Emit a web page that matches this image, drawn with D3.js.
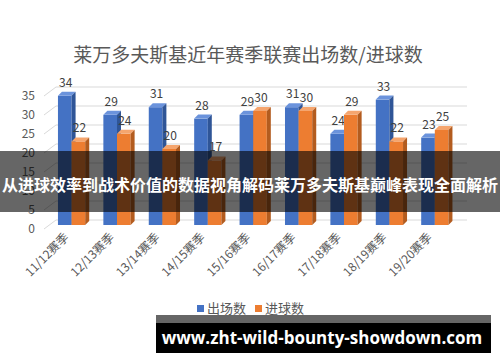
<!DOCTYPE html>
<html>
<head>
<meta charset="utf-8">
<script src="https://cdn.jsdelivr.net/npm/d3@7"></script>
<style>
  body { margin: 0; background: #fff; }
  svg { display: block; }
</style>
</head>
<body>
<div id="chart"></div>
<script>
var seasons = ['11/12赛季', '12/13赛季', '13/14赛季', '14/15赛季', '15/16赛季', '16/17赛季', '17/18赛季', '18/19赛季', '19/20赛季'];
var appearances = [34, 29, 31, 28, 29, 31, 24, 33, 23];
var goals = [22, 24, 20, 17, 30, 30, 29, 22, 25];
var seriesNames = ['出场数', '进球数'];
var yTicks = [0, 5, 10, 15, 20, 25, 30, 35];

var title = '莱万多夫斯基近年赛季联赛出场数/进球数';
var bannerText = '从进球效率到战术价值的数据视角解码莱万多夫斯基巅峰表现全面解析';
var siteText = 'www.zht-wild-bounty-showdown.com';

var width = 500,
    height = 362,
    depth = 4;

var cjk = '"Noto Sans CJK SC", "Noto Sans", sans-serif';

var colors = [
    { front: '#4472c4', top: '#6b93dc', side: '#2f5597' },
    { front: '#ed7d31', top: '#f5a56e', side: '#b35c1f' }
];

var svg = d3.select('#chart')
    .append('svg')
    .attr('width', width)
    .attr('height', height);

// back wall scale and bar scale (bars sit a little in front of the wall)
var yWall = d3.scaleLinear().domain([0, 35]).range([220, 87]);
var yBar = d3.scaleLinear().domain([0, 35]).range([225, 92]);

var x = d3.scaleBand()
    .domain(seasons)
    .range([39.8, 466.6])
    .paddingInner(0.4)
    .paddingOuter(0.4);

var xSub = d3.scaleBand()
    .domain(seriesNames)
    .range([0, x.bandwidth()]);

// title
svg.append('text')
    .attr('x', 248)
    .attr('y', 62)
    .attr('text-anchor', 'middle')
    .style('font-family', cjk)
    .style('font-size', '19px')
    .style('fill', '#595959')
    .text(title);

// gridlines with the little perspective stubs
var grid = svg.append('g');
yTicks.forEach(function (t) {
    grid.append('line')
        .attr('x1', 56).attr('x2', 467)
        .attr('y1', yWall(t)).attr('y2', yWall(t))
        .style('stroke', '#d9d9d9')
        .style('stroke-width', 1);
    grid.append('line')
        .attr('x1', 44).attr('y1', yWall(t) + 9)
        .attr('x2', 56).attr('y2', yWall(t))
        .style('stroke', '#d9d9d9')
        .style('stroke-width', 1);
    grid.append('text')
        .attr('x', 35)
        .attr('y', yWall(t) + 13)
        .attr('text-anchor', 'end')
        .style('font-family', cjk)
        .style('font-size', '12px')
        .style('fill', '#595959')
        .text(t);
});

// bars
var rows = seasons.map(function (s, i) {
    return [appearances[i], goals[i]];
});

var groups = svg.append('g')
    .selectAll('g')
    .data(rows)
    .enter().append('g')
    .attr('transform', function (d, i) { return 'translate(' + x(seasons[i]) + ',0)'; });

groups.each(function (row) {
    var g = d3.select(this);
    row.forEach(function (v, k) {
        var bx = xSub(seriesNames[k]),
            bw = xSub.bandwidth(),
            top = yBar(v),
            bottom = yBar(0),
            c = colors[k];

        g.append('rect')
            .attr('x', bx).attr('y', top)
            .attr('width', bw).attr('height', bottom - top)
            .style('fill', c.front);
        g.append('polygon')
            .attr('points', [[bx, top], [bx + bw, top], [bx + bw + depth, top - depth], [bx + depth, top - depth]].join(' '))
            .style('fill', c.top);
        g.append('polygon')
            .attr('points', [[bx + bw, top], [bx + bw + depth, top - depth], [bx + bw + depth, bottom - depth], [bx + bw, bottom]].join(' '))
            .style('fill', c.side);
        g.append('text')
            .attr('x', bx + bw / 2 + 1)
            .attr('y', top - 9)
            .attr('text-anchor', 'middle')
            .style('font-family', cjk)
            .style('font-size', '12px')
            .style('fill', '#404040')
            .text(v);
    });
});

// category labels, rotated
svg.append('g')
    .selectAll('text')
    .data(seasons)
    .enter().append('text')
    .attr('transform', function (d) {
        return 'translate(' + (x(d) + x.bandwidth() / 2 - 2) + ',238) rotate(-45)';
    })
    .attr('text-anchor', 'end')
    .style('font-family', cjk)
    .style('font-size', '12px')
    .style('fill', '#595959')
    .text(function (d) { return d; });

// legend
var legend = svg.append('g')
    .selectAll('g')
    .data(seriesNames)
    .enter().append('g')
    .attr('transform', function (d, i) { return 'translate(' + (197 + i * 58) + ',0)'; });
legend.append('rect')
    .attr('x', 0).attr('y', 305)
    .attr('width', 7).attr('height', 7)
    .style('fill', function (d, i) { return colors[i].front; });
legend.append('text')
    .attr('x', 10).attr('y', 313)
    .style('font-family', cjk)
    .style('font-size', '13px')
    .style('fill', '#595959')
    .text(function (d) { return d; });

// dark banner across the middle
svg.append('rect')
    .attr('x', 0).attr('y', 151)
    .attr('width', width).attr('height', 61)
    .style('fill', 'rgba(0,0,0,0.6)');
svg.append('text')
    .attr('x', 250)
    .attr('y', 191)
    .attr('text-anchor', 'middle')
    .style('font-family', cjk)
    .style('font-weight', 'bold')
    .style('font-size', '16px')
    .style('fill', '#fff')
    .text(bannerText);

// site strip at the bottom
svg.append('rect')
    .attr('x', 156).attr('y', 315)
    .attr('width', 335).attr('height', 38)
    .style('fill', 'rgba(0,0,0,0.6)');
svg.append('rect')
    .attr('x', 156).attr('y', 323)
    .attr('width', 335).attr('height', 30)
    .style('fill', '#000');
svg.append('text')
    .attr('x', 322)
    .attr('y', 344)
    .attr('text-anchor', 'middle')
    .style('font-family', '"Open Sans", "Noto Sans", sans-serif')
    .style('font-weight', 'bold')
    .style('font-size', '17px')
    .style('fill', '#fff')
    .text(siteText);
</script>
</body>
</html>
